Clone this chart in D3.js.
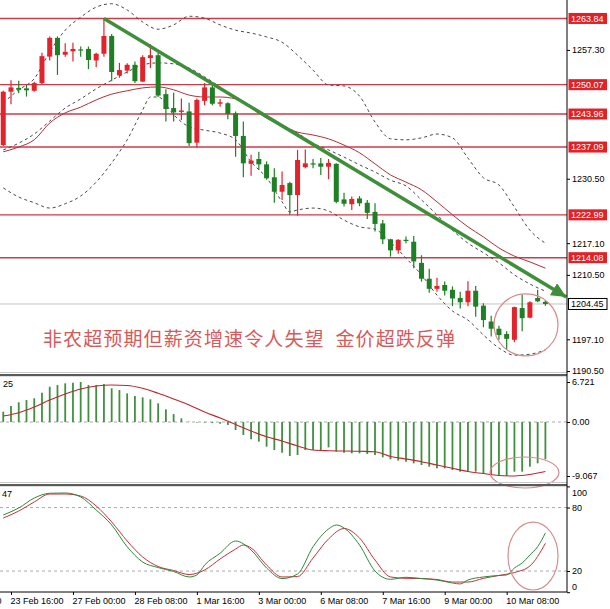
<!DOCTYPE html>
<html><head><meta charset="utf-8">
<script src="https://cdn.jsdelivr.net/npm/d3@7"></script>
<style>body{margin:0;background:#fff;overflow:hidden}svg{display:block;font-family:"Liberation Sans",Arial,sans-serif}</style>
</head><body><svg id="c" width="610" height="609"></svg>
<script>
// ---------- DATA ----------
const opens  = [1237.5,1248.6,1249.4,1249.3,1248.8,1250.4,1255.9,1259.8,1256.3,1257.0,1257.4,1257.5,1255.1,1256.5,1260.2,1252.0,1253.0,1254.2,1250.7,1255.6,1256.2,1248.1,1245.2,1244.4,1244.5,1238.0,1246.7,1249.5,1246.1,1246.2,1244.1,1239.4,1233.6,1234.6,1233.5,1230.8,1227.8,1229.6,1227.1,1232.9,1233.7,1233.7,1233.0,1233.6,1226.2,1225.2,1226.4,1225.5,1223.6,1221.2,1217.9,1215.6,1217.8,1217.4,1213.0,1209.7,1207.6,1208.4,1207.4,1205.7,1204.8,1207.2,1204.1,1200.8,1199.3,1198.2,1197.0,1203.6,1201.6,1205.7,1204.9];
const highs  = [1248.8,1251.0,1250.9,1250.0,1250.7,1256.7,1260.1,1260.1,1258.7,1258.8,1258.0,1258.0,1256.7,1263.84,1260.6,1254.6,1254.5,1254.9,1256.2,1258.5,1256.7,1249.1,1248.4,1247.2,1246.3,1247.2,1250.4,1250.0,1247.1,1246.4,1244.5,1242.4,1235.5,1236.1,1234.1,1232.7,1232.0,1229.9,1236.5,1236.6,1234.6,1234.8,1234.6,1233.7,1227.6,1226.8,1226.9,1226.1,1225.4,1221.9,1218.0,1217.9,1218.5,1218.6,1214.6,1211.8,1209.9,1209.1,1208.1,1207.0,1209.2,1208.2,1204.6,1202.0,1199.9,1198.8,1203.9,1206.4,1205.0,1207.4,1205.3];
const lows   = [1237.3,1246.0,1248.3,1247.6,1248.6,1250.2,1255.1,1252.1,1255.9,1254.9,1255.9,1253.3,1253.7,1255.9,1250.8,1251.5,1252.4,1250.4,1250.6,1253.5,1247.5,1242.4,1242.4,1242.7,1237.3,1237.0,1245.8,1245.8,1245.5,1242.9,1235.1,1230.8,1231.1,1232.3,1230.3,1225.5,1226.1,1223.0,1222.8,1232.7,1232.7,1231.3,1230.4,1225.4,1224.7,1224.0,1224.8,1222.1,1219.5,1216.9,1214.3,1214.9,1217.1,1211.9,1209.1,1206.8,1207.0,1206.2,1204.0,1203.5,1204.0,1201.8,1199.6,1197.7,1197.0,1195.1,1196.5,1198.8,1201.5,1204.8,1204.1];
const closes = [1248.6,1249.5,1249.0,1248.9,1250.4,1256.0,1259.8,1256.2,1256.9,1257.5,1257.3,1255.2,1256.5,1260.2,1252.7,1253.1,1254.2,1250.8,1255.8,1256.2,1247.8,1245.0,1244.3,1244.7,1237.9,1246.9,1249.5,1246.1,1246.4,1244.0,1239.4,1233.7,1234.3,1233.5,1230.6,1227.8,1229.2,1227.1,1234.4,1233.7,1233.5,1233.0,1233.8,1225.7,1225.3,1226.3,1225.4,1223.4,1221.1,1217.9,1215.6,1217.8,1217.6,1213.3,1209.7,1207.6,1208.2,1207.2,1205.6,1204.8,1207.2,1203.9,1201.1,1199.3,1198.0,1197.2,1203.8,1201.5,1204.8,1205.0,1204.45];

const levels = [1263.84,1250.07,1243.96,1237.09,1222.99,1214.08];
const currentPrice = 1204.45;
const priceTicks = [1257.30,1230.50,1217.10,1210.50,1197.10,1190.50];

const bandIdx  = [0,2,4,6,8,10,12,14,16,18,20,22,24,26,28,30,32,34,36,38,40,42,44,46,48,50,52,54,56,58,60,62,64,66,68,70];
const bbUpper  = [1246.3,1249.0,1251.3,1256.9,1261.4,1264.1,1266.2,1266.9,1265.6,1263.1,1261.6,1262.5,1264.3,1263.9,1262.5,1261.4,1260.8,1260.0,1258.9,1256.2,1253.1,1250.0,1249.8,1247.7,1242.3,1238.8,1238.6,1239.0,1239.8,1239.0,1234.8,1230.7,1229.2,1224.6,1219.8,1217.1];
const bbMiddle = [1236.5,1237.9,1239.8,1242.5,1245.2,1247.1,1249.2,1251.0,1252.7,1254.2,1254.6,1254.4,1253.5,1251.7,1249.6,1247.5,1245.6,1243.6,1241.7,1240.0,1237.9,1236.5,1235.0,1233.4,1231.9,1230.2,1229.0,1226.1,1223.0,1219.8,1217.1,1215.1,1213.0,1210.5,1208.6,1207.1];
const lowerIdx = [0,2,4,6,8,10,12,14,16,18,19,20,22,24,26,28,30,32,34,36,37,38,40,42,44,46,48,50,52,54,56,58,60,62,64,66,68,70];
const bbLower  = [1228.6,1226.7,1225.5,1224.4,1225.3,1226.9,1229.8,1233.8,1238.6,1244.8,1247.5,1247.5,1243.8,1241.3,1240.6,1240.0,1238.6,1234.0,1230.7,1225.7,1223.6,1224.0,1224.4,1223.8,1221.9,1220.5,1220.0,1217.3,1214.0,1210.5,1206.3,1203.0,1201.1,1198.0,1195.3,1193.8,1194.0,1194.9];
const maLine   = [1236.1,1237.1,1238.6,1242.1,1244.2,1245.4,1246.9,1248.1,1248.8,1249.4,1249.6,1249.0,1247.9,1247.5,1247.5,1247.1,1245.2,1243.1,1241.5,1240.2,1239.6,1238.8,1237.5,1235.9,1233.6,1231.3,1229.8,1228.2,1225.7,1223.0,1220.5,1218.4,1216.1,1214.4,1213.2,1211.9];

const trendIdx   = [13, 72.7];
const trendPrice = [1263.84, 1205.9];

const macdHist = [1.73,2.69,3.31,3.69,3.98,4.92,5.93,6.21,6.50,6.60,6.72,6.21,6.21,6.38,5.66,5.37,4.81,4.37,4.15,3.81,3.14,2.13,1.34,0.62,0.05,-0.10,-0.10,-0.17,-0.28,-0.50,-1.34,-2.18,-2.91,-3.30,-4.14,-4.70,-5.15,-5.71,-5.54,-4.70,-4.70,-4.70,-4.26,-4.98,-5.15,-5.26,-5.26,-5.37,-5.54,-5.93,-6.26,-6.49,-6.66,-6.94,-7.22,-7.50,-7.78,-7.78,-8.06,-8.34,-8.34,-8.34,-8.62,-8.90,-8.90,-9.07,-8.34,-8.34,-7.50,-6.94,-6.26];
const macdSignal = [1.01,1.56,2.52,3.69,4.70,5.54,6.04,6.21,6.13,5.66,4.82,3.86,2.85,1.68,0.67,-0.42,-1.51,-2.47,-3.19,-4.03,-4.70,-4.82,-4.87,-4.92,-4.99,-5.79,-6.21,-6.67,-7.22,-7.77,-8.31,-8.65,-8.98,-9.07,-8.81,-8.31];
const macdTicks = [6.721, 0, -9.067];
const macdTickLabels = ["6.721","0.00","-9.067"];

const stochKIdx = [0,2,4,6,8,10,12,14,16,18,20,22,24,25,26,28,30,32,34,36,38,40,42,43,44,46,48,50,52,54,56,58,59,60,62,64,65,66,67,68,69,70];
const stochK    = [73.0,79.6,89.0,93.5,93.8,90.0,77.7,63.5,43.0,28.5,23.3,19.6,14.4,16.3,25.7,36.8,48.4,39.9,22.9,12.9,17.2,43.0,59.7,63.5,60.7,44.6,20.0,12.2,14.1,12.9,11.5,8.7,7.8,11.5,14.4,15.8,16.3,22.9,27.6,35.2,43.0,56.0];
const stochDIdx = [0,2,4,6,8,10,12,14,16,18,20,22,24,26,28,30,31,32,34,36,38,40,42,44,46,48,50,52,54,56,58,60,62,64,66,68,70];
const stochD    = [70.1,76.7,85.3,92.8,92.8,90.9,81.5,66.4,48.4,33.3,24.3,20.5,16.7,21.0,31.4,40.8,44.6,41.8,25.7,14.4,14.8,32.3,50.3,60.2,51.2,30.4,14.4,13.1,12.9,12.0,9.6,9.6,13.1,15.8,18.6,24.8,46.2];
const stochTicks = [100,80,20,0];

const timeIdx    = [-7,1,9,17,25,33,41,49,57,65];
const timeLabels = ["22 Feb 08:00","23 Feb 16:00","27 Feb 00:00","28 Feb 08:00","1 Mar 16:00","3 Mar 00:00","6 Mar 08:00","7 Mar 16:00","9 Mar 00:00","10 Mar 08:00"];

const headline = "非农超预期但薪资增速令人失望  金价超跌反弹";
const macdCornerText = "25";
const stochCornerText = "47";

// annotation ellipses: [centre index, centre value, radius in index units, radius in value units]
const priceCircle = [67.5, 1200.1, 4.13, 6.45];
const macdCircle  = [67.3, -8.48, 4.45, 2.6];
const stochCircle = [68.4, 34.2, 3.23, 32.1];

// ---------- LAYOUT ----------
const AX = 567;
const svg = d3.select("#c");
const x  = d3.scaleLinear().domain([0,70]).range([3.25,545.4]);
const yP = d3.scaleLinear().domain([1190.3,1267.68]).range([372,0]);
const yM = d3.scaleLinear().domain([-9.067,6.721]).range([476,382]);
const yS = d3.scaleLinear().domain([0,100]).range([592.2,486.4]);

const RED="#e3232b", GREEN="#1f7f24", LEVEL="#cf3a48", BANDC="#4a4a4a";

const defs = svg.append("defs");
defs.append("clipPath").attr("id","cpMain").append("rect").attr("x",0).attr("y",0).attr("width",AX).attr("height",372);
defs.append("clipPath").attr("id","cpMacd").append("rect").attr("x",0).attr("y",377).attr("width",AX).attr("height",106);
defs.append("clipPath").attr("id","cpSt").append("rect").attr("x",0).attr("y",487).attr("width",AX).attr("height",105);
defs.append("marker").attr("id","arr").attr("markerUnits","userSpaceOnUse")
  .attr("markerWidth",16).attr("markerHeight",14).attr("refX",15).attr("refY",7).attr("orient","auto")
  .append("path").attr("d","M0,0 L15,7 L0,14 Z").attr("fill","#3f8f3a");

// ---------- MAIN PANEL ----------
const gm = svg.append("g").attr("clip-path","url(#cpMain)");
gm.append("line").attr("x1",0).attr("x2",AX).attr("y1",yP(currentPrice)).attr("y2",yP(currentPrice))
  .attr("stroke","#c4c4c4").attr("stroke-width",1);
gm.selectAll("line.lv").data(levels).join("line").attr("class","lv")
  .attr("x1",0).attr("x2",AX).attr("y1",d=>yP(d)).attr("y2",d=>yP(d))
  .attr("stroke",LEVEL).attr("stroke-width",1.4);

const lineP = (idx,vals)=>d3.line().curve(d3.curveMonotoneX).x((d,i)=>x(idx[i])).y(d=>yP(d))(vals);
gm.append("path").attr("d",lineP(bandIdx,maLine)).attr("fill","none").attr("stroke","#b03038").attr("stroke-width",1);
[[bandIdx,bbUpper],[bandIdx,bbMiddle],[lowerIdx,bbLower]].forEach(([ix,v])=>{
  gm.append("path").attr("d",lineP(ix,v)).attr("fill","none").attr("stroke",BANDC)
    .attr("stroke-width",1).attr("stroke-dasharray","3,3");
});

const cd = d3.range(opens.length).map(i=>({i,o:opens[i],h:highs[i],l:lows[i],c:closes[i]}));
const cg = gm.selectAll("g.cd").data(cd).join("g").attr("class","cd");
cg.append("line").attr("x1",d=>x(d.i)).attr("x2",d=>x(d.i)).attr("y1",d=>yP(d.h)).attr("y2",d=>yP(d.l))
  .attr("stroke",d=>d.c>=d.o?RED:GREEN).attr("stroke-width",1.2);
cg.append("rect").attr("x",d=>x(d.i)-2.5).attr("width",5)
  .attr("y",d=>yP(Math.max(d.o,d.c))).attr("height",d=>Math.max(1.2,Math.abs(yP(d.o)-yP(d.c))))
  .attr("fill",d=>d.c>=d.o?RED:GREEN);

svg.append("line").attr("x1",x(trendIdx[0])).attr("y1",yP(trendPrice[0]))
  .attr("x2",x(trendIdx[1])).attr("y2",yP(trendPrice[1]))
  .attr("stroke","#3f8f3a").attr("stroke-width",3.5).attr("marker-end","url(#arr)");

svg.append("text").attr("x",43).attr("y",346).text(headline)
  .attr("font-family","'Noto Sans CJK SC',sans-serif").attr("font-size",19).attr("fill","#d65a5a")
  .attr("textLength",412).attr("lengthAdjust","spacing").attr("xml:space","preserve").style("white-space","pre");

function ell(c,ys){
  svg.append("ellipse").attr("cx",x(c[0])).attr("cy",ys(c[1]))
    .attr("rx",x(c[2])-x(0)).attr("ry",Math.abs(ys(c[3])-ys(0)))
    .attr("fill","none").attr("stroke","#d98a8a").attr("stroke-width",1.2);
}

// ---------- MACD PANEL ----------
const gd = svg.append("g").attr("clip-path","url(#cpMacd)");
gd.append("line").attr("x1",0).attr("x2",AX).attr("y1",yM(0)).attr("y2",yM(0))
  .attr("stroke","#aaa").attr("stroke-dasharray","3,3");
gd.selectAll("line.hb").data(macdHist).join("line").attr("class","hb")
  .attr("x1",(d,i)=>x(i)).attr("x2",(d,i)=>x(i)).attr("y1",yM(0)).attr("y2",d=>yM(d))
  .attr("stroke","#3f913f").attr("stroke-width",1.8);
gd.append("path").attr("d",d3.line().curve(d3.curveMonotoneX).x((d,i)=>x(bandIdx[i])).y(d=>yM(d))(macdSignal))
  .attr("fill","none").attr("stroke","#c0262c").attr("stroke-width",1.1);
svg.append("text").attr("x",3).attr("y",387).text(macdCornerText).attr("font-size",9).attr("fill","#000");

// ---------- STOCH PANEL ----------
const gs = svg.append("g").attr("clip-path","url(#cpSt)");
[80,20].forEach(v=>gs.append("line").attr("x1",0).attr("x2",AX).attr("y1",yS(v)).attr("y2",yS(v))
  .attr("stroke","#aaa").attr("stroke-dasharray","3,3"));
gs.append("path").attr("d",d3.line().curve(d3.curveMonotoneX).x((d,i)=>x(stochDIdx[i])).y(d=>yS(d))(stochD))
  .attr("fill","none").attr("stroke","#c8303a").attr("stroke-width",1);
gs.append("path").attr("d",d3.line().curve(d3.curveMonotoneX).x((d,i)=>x(stochKIdx[i])).y(d=>yS(d))(stochK))
  .attr("fill","none").attr("stroke","#2d8a3a").attr("stroke-width",1);
svg.append("text").attr("x",2).attr("y",497).text(stochCornerText).attr("font-size",9).attr("fill","#000");

ell(priceCircle,yP); ell(macdCircle,yM); ell(stochCircle,yS);

// ---------- SEPARATORS & AXES ----------
[372.5,482.5].forEach(y=>{
  svg.append("line").attr("x1",0).attr("x2",AX).attr("y1",y).attr("y2",y).attr("stroke","#c8c8c8");
  svg.append("rect").attr("x",0).attr("y",y+1.5).attr("width",AX).attr("height",2.2).attr("fill","#5a5a5a");
});
svg.append("line").attr("x1",AX).attr("x2",AX).attr("y1",0).attr("y2",592).attr("stroke","#000").attr("stroke-width",1);
svg.append("line").attr("x1",0).attr("x2",AX).attr("y1",592).attr("y2",592).attr("stroke","#000").attr("stroke-width",1);

const pa = svg.append("g").attr("transform",`translate(${AX},0)`)
  .call(d3.axisRight(yP).tickValues(priceTicks).tickSize(3).tickFormat(d3.format(".2f")));
pa.select(".domain").remove();
pa.selectAll("text").attr("font-size",9).attr("x",5).attr("fill","#000");
pa.selectAll("line").attr("stroke","#000");

const lg = svg.selectAll("g.ll").data(levels).join("g").attr("class","ll");
lg.append("rect").attr("x",AX+1.5).attr("y",d=>yP(d)-5.5).attr("width",38.5).attr("height",11).attr("fill","#e41f25");
lg.append("text").attr("x",AX+4).attr("y",d=>yP(d)+3.3).text(d=>d3.format(".2f")(d))
  .attr("font-size",9).attr("fill","#fff");
svg.append("rect").attr("x",AX+1.5).attr("y",yP(currentPrice)-5.5).attr("width",38.5).attr("height",11)
  .attr("fill","#fff").attr("stroke","#000").attr("stroke-width",1);
svg.append("text").attr("x",AX+4).attr("y",yP(currentPrice)+3.3).text(d3.format(".2f")(currentPrice))
  .attr("font-size",9).attr("fill","#000");

const ma = svg.append("g").attr("transform",`translate(${AX},0)`)
  .call(d3.axisRight(yM).tickValues(macdTicks).tickSize(3).tickFormat((d,i)=>macdTickLabels[i]));
ma.select(".domain").remove();
ma.selectAll("text").attr("font-size",9).attr("x",5).attr("fill","#000");

// Stoch axis: tick marks via d3 axis, labels nudged inside the panel like MT4
const sa = svg.append("g").attr("transform",`translate(${AX},0)`)
  .call(d3.axisRight(yS).tickValues(stochTicks).tickSize(3).tickFormat(""));
sa.select(".domain").remove();
const stochLabelShift = {100:6, 80:0, 20:0, 0:-5};
svg.selectAll("text.sl").data(stochTicks).join("text").attr("class","sl")
  .attr("x",AX+5).attr("y",d=>yS(d)+stochLabelShift[d]+3.2).text(d=>String(d))
  .attr("font-size",9).attr("fill","#000");

const ta = svg.append("g").attr("transform","translate(0,592)")
  .call(d3.axisBottom(x).tickValues(timeIdx).tickSize(3).tickFormat((d,i)=>timeLabels[i]));
ta.select(".domain").remove();
ta.selectAll("text").attr("font-size",9).attr("text-anchor","start").attr("x",-1).attr("fill","#000");
</script></body></html>
